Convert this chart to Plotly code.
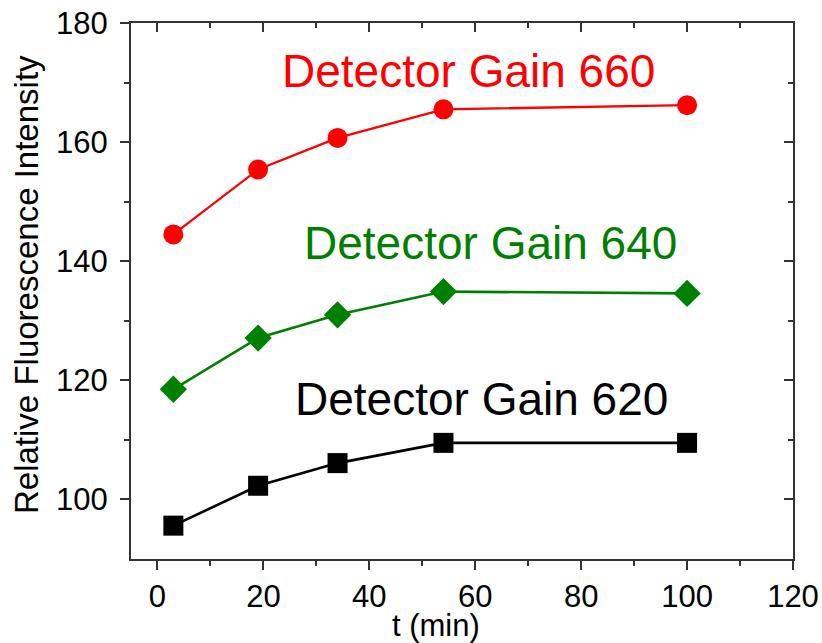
import plotly.graph_objects as go

t_min = [3, 19, 34, 54, 100]
gain_660 = [144.5, 155.4, 160.7, 165.5, 166.2]
gain_640 = [118.5, 127.1, 131.0, 134.9, 134.6]
gain_620 = [95.6, 102.3, 106.1, 109.5, 109.5]

labels = ["Detector Gain 660", "Detector Gain 640", "Detector Gain 620"]
label_x = [58.8, 62.8, 61.2]
label_y = [172.0, 143.0, 116.8]
colors = ["#ff0000", "#008000", "#000000"]

FONT = "Liberation Sans, Arial, sans-serif"
AX = "#333333"
L, R, T, B = 131, 793, 23, 559

fig = go.Figure()
fig.add_trace(go.Scatter(x=t_min, y=gain_660, mode="lines+markers",
                         line=dict(color=colors[0], width=2.3),
                         marker=dict(symbol="circle", size=20, color=colors[0])))
fig.add_trace(go.Scatter(x=t_min, y=gain_640, mode="lines+markers",
                         line=dict(color=colors[1], width=2.6),
                         marker=dict(symbol="diamond", size=21, color=colors[1])))
fig.add_trace(go.Scatter(x=t_min, y=gain_620, mode="lines+markers",
                         line=dict(color=colors[2], width=2.6),
                         marker=dict(symbol="square", size=20, color=colors[2])))
fig.add_trace(go.Scatter(x=[], y=[], xaxis="x2", yaxis="y2", showlegend=False))

for txt, xx, yy, c in zip(labels, label_x, label_y, colors):
    fig.add_annotation(x=xx, y=yy, text=txt, showarrow=False, xref="x", yref="y",
                       font=dict(family=FONT, size=46, color=c),
                       xanchor="center", yanchor="middle")

fig.add_annotation(xref="x domain", yref="y domain",
                   x=(436 - L) / (R - L), y=-(625 - B) / (B - T),
                   text="t (min)", showarrow=False, xanchor="center", yanchor="middle",
                   font=dict(family=FONT, size=31, color="black"))
fig.add_annotation(xref="x domain", yref="y domain",
                   x=-(L - 26) / (R - L), y=(B - 285) / (B - T),
                   text="Relative Fluorescence Intensity", showarrow=False, textangle=-90,
                   xanchor="center", yanchor="middle",
                   font=dict(family=FONT, size=33, color="black"))

axis_common = dict(showline=True, linecolor=AX, linewidth=2, showgrid=False,
                   zeroline=False, tickcolor=AX, tickwidth=2, ticklen=9, automargin=False)

fig.update_layout(
    width=822, height=643,
    margin=dict(l=L, r=822 - R, t=T, b=643 - B),
    paper_bgcolor="white", plot_bgcolor="white",
    showlegend=False,
    font=dict(family=FONT, size=31, color="black"),
    xaxis=dict(range=[-5, 120], tickvals=[0, 20, 40, 60, 80, 100, 120], ticks="outside",
               minor=dict(tickvals=[10, 30, 50, 70, 90, 110], ticks="outside", ticklen=5,
                          tickcolor=AX, tickwidth=2),
               tickfont=dict(size=31), **axis_common),
    yaxis=dict(range=[90, 180], tickvals=[100, 120, 140, 160, 180], ticks="outside",
               minor=dict(tickvals=[110, 130, 150, 170], ticks="outside", ticklen=5,
                          tickcolor=AX, tickwidth=2),
               tickfont=dict(size=31), ticklabelstandoff=6,
               **axis_common),
    xaxis2=dict(range=[-5, 120], overlaying="x", side="top", anchor="y",
                tickvals=[0, 20, 40, 60, 80, 100, 120], ticks="inside", showticklabels=False,
                minor=dict(tickvals=[10, 30, 50, 70, 90, 110], ticks="inside", ticklen=5,
                           tickcolor=AX, tickwidth=2),
                **axis_common),
    yaxis2=dict(range=[90, 180], overlaying="y", side="right", anchor="x",
                tickvals=[100, 120, 140, 160, 180], ticks="inside", showticklabels=False,
                minor=dict(tickvals=[110, 130, 150, 170], ticks="inside", ticklen=5,
                           tickcolor=AX, tickwidth=2),
                **axis_common),
)

fig.write_html("out.html", config={"displayModeBar": False},
               post_script="document.body.style.margin='0';")
